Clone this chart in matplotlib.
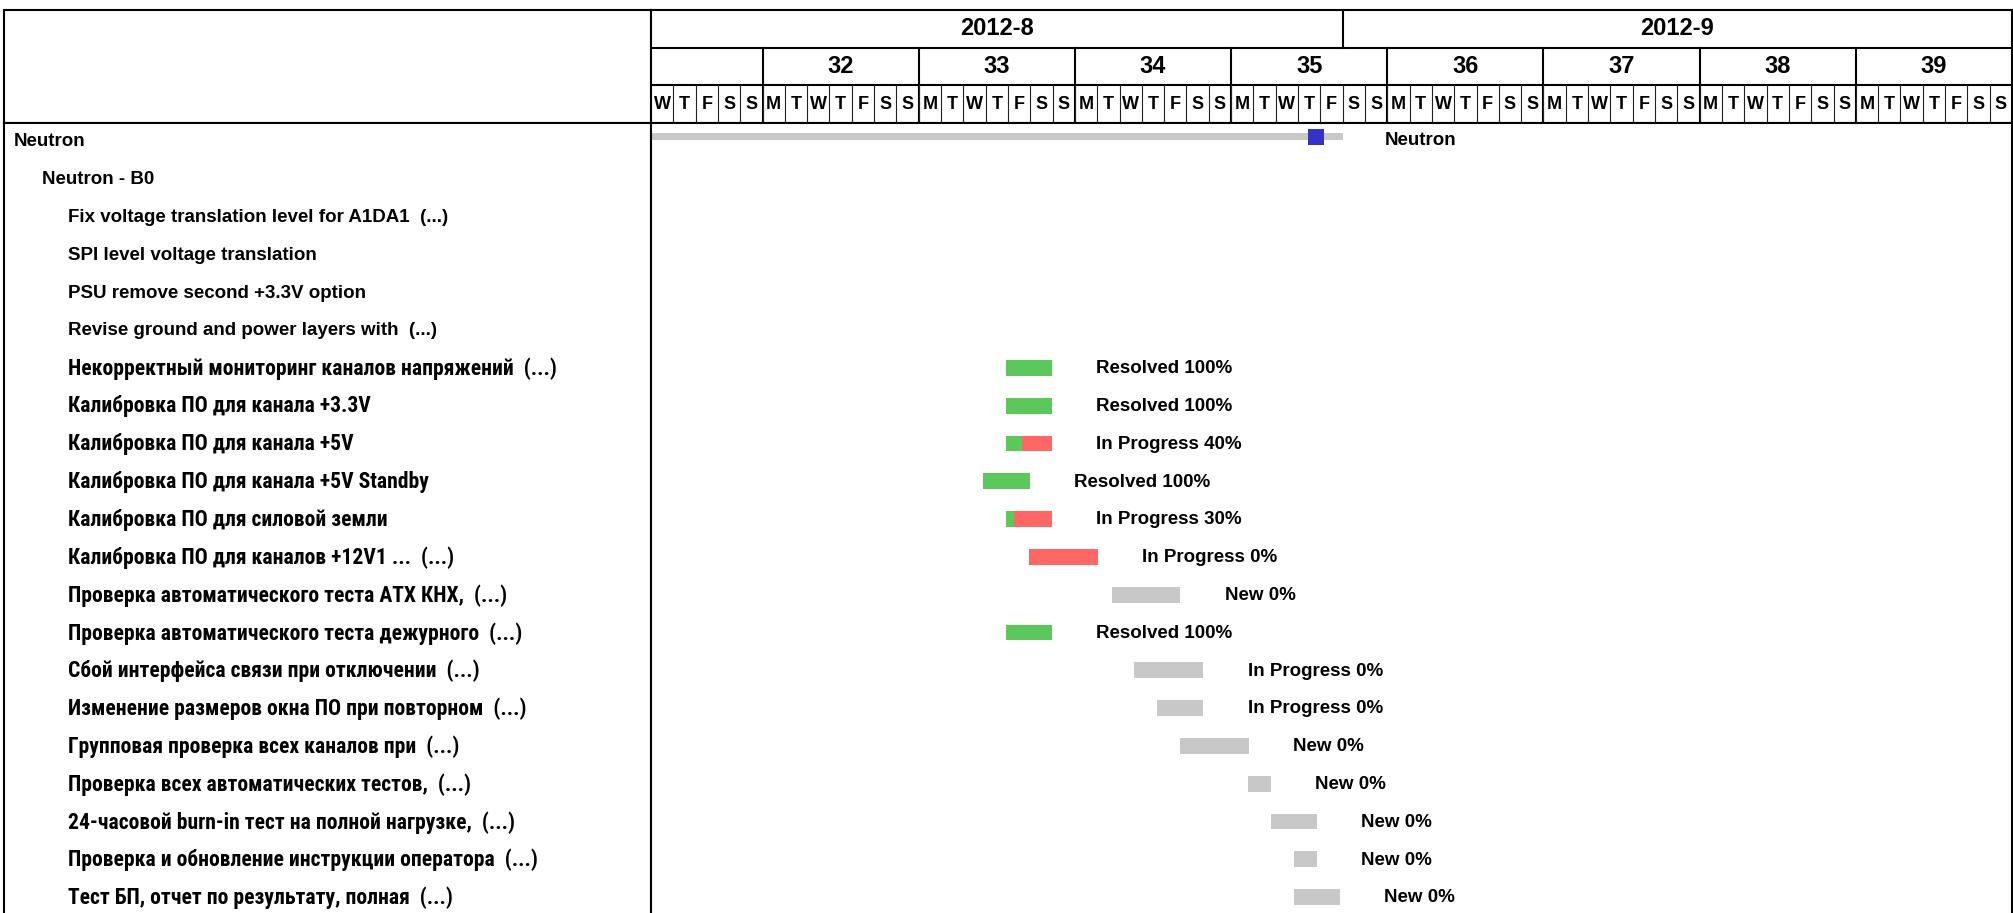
import numpy as np
import pandas as pd
import matplotlib
matplotlib.use('Agg')
import matplotlib.pyplot as plt
from matplotlib.patches import Rectangle
from matplotlib import font_manager

# ==============================================================================
# Data (days counted from 2012-08-01)
# ==============================================================================
month_labels = ['2012-8', '2012-9']
month_days = [31, 30]
week_labels = ['', '32', '33', '34', '35', '36', '37', '38', '39']
week_days = [5, 7, 7, 7, 7, 7, 7, 7, 7]
dates = pd.date_range('2012-08-01', '2012-09-30', freq='D')

task_names = [
    'Neutron',
    'Neutron - B0',
    'Fix voltage translation level for A1DA1  (...)',
    'SPI level voltage translation',
    'PSU remove second +3.3V option',
    'Revise ground and power layers with  (...)',
    'Некорректный мониторинг каналов напряжений  (...)',
    'Калибровка ПО для канала +3.3V',
    'Калибровка ПО для канала +5V',
    'Калибровка ПО для канала +5V Standby',
    'Калибровка ПО для силовой земли',
    'Калибровка ПО для каналов +12V1 ...  (...)',
    'Проверка автоматического теста АТХ КНХ,  (...)',
    'Проверка автоматического теста дежурного  (...)',
    'Сбой интерфейса связи при отключении  (...)',
    'Изменение размеров окна ПО при повторном  (...)',
    'Групповая проверка всех каналов при  (...)',
    'Проверка всех автоматических тестов,  (...)',
    '24-часовой burn-in тест на полной нагрузке,  (...)',
    'Проверка и обновление инструкции оператора  (...)',
    'Тест БП, отчет по результату, полная  (...)',
]
task_levels = [0, 1] + [2] * 19

bar_start = [None] * 6 + [15.9, 15.9, 15.9, 14.9, 15.9, 16.93, 20.64, 15.9,
                          21.67, 22.7, 23.69, 26.74, 27.77, 28.8, 28.8]
bar_end = [None] * 6 + [17.96, 17.96, 17.96, 16.97, 17.96, 20.02, 23.73, 17.96,
                        24.76, 24.76, 26.78, 27.77, 29.83, 29.83, 30.86]
status = [None] * 6 + ['Resolved', 'Resolved', 'In Progress', 'Resolved', 'In Progress',
                       'In Progress', 'New', 'Resolved', 'In Progress', 'In Progress',
                       'New', 'New', 'New', 'New', 'New']
percent = [None] * 6 + [100, 100, 40, 100, 30, 0, 0, 100, 0, 0, 0, 0, 0, 0, 0]
done_share = [None] * 6 + [1, 1, 0.35, 1, 0.17, 0, 0, 1, 0, 0, 0, 0, 0, 0, 0]
late = [None] * 6 + [False, False, True, False, True, True, False, False,
                     False, False, False, False, False, False, False]

project_start, project_end = 0, 31
today_marker = 29.82

# ==============================================================================
# Fonts
# ==============================================================================
installed = {f.name for f in font_manager.fontManager.ttflist}
LATIN = ['Liberation Sans', 'DejaVu Sans']
NARROW = [n for n in ['Roboto Condensed', 'PT Sans Narrow'] if n in installed] + ['DejaVu Sans']


def is_cyrillic(s):
    return any('\u0400' <= ch <= '\u04ff' for ch in s)


C_DONE = '#5cc85c'
C_LATE = '#ff6666'
C_TODO = '#c8c8c8'
C_MARK = '#3333cc'

# ==============================================================================
# Layout (pixels of a 2013x913 canvas)
# ==============================================================================
W, H = 2013, 913
x_left, x_div, x_right = 4, 651, 2012
y_top, y_head = 10, 123


def frac(x0, y0, x1, y1):
    return [x0 / W, 1 - y1 / H, (x1 - x0) / W, (y1 - y0) / H]


fig = plt.figure(figsize=(W / 100, H / 100), dpi=100)
ax_lh = fig.add_axes(frac(x_left, y_top, x_div, y_head))
ax_l = fig.add_axes(frac(x_left, y_head, x_div, H))
ax_h = fig.add_axes(frac(x_div, y_top, x_right, y_head))
ax_t = fig.add_axes(frac(x_div, y_head, x_right, H))

n_days = len(dates)
row_px = 37.8
y_lim = ((H - 140) / row_px, -(140 - y_head) / row_px)
txt_dy = 0.05  # small baseline nudge so text sits on the bar centre

for ax in (ax_lh, ax_l, ax_h, ax_t):
    ax.set_xticks([])
    ax.set_yticks([])
    for sp in ax.spines.values():
        sp.set_linewidth(1.5)
for ax in (ax_l, ax_t):
    ax.spines['bottom'].set_visible(False)

# --- header ---
ax_h.set_xlim(0, n_days)
ax_h.set_ylim(3, 0)
ax_h.axhline(1, color='black', lw=1.5)
ax_h.axhline(2, color='black', lw=1.5)

pos = 0
for lab, nd in zip(month_labels, month_days):
    if pos > 0:
        ax_h.plot([pos, pos], [0, 1], color='black', lw=1.5)
    ax_h.text(pos + nd / 2, 0.5, lab, ha='center', va='center', fontsize=17,
              fontweight='bold', family=LATIN)
    pos += nd

pos = 0
for lab, nd in zip(week_labels, week_days):
    if pos > 0:
        ax_h.plot([pos, pos], [1, 3], color='black', lw=1.5)
    ax_h.text(pos + nd / 2, 1.5, lab, ha='center', va='center', fontsize=17,
              fontweight='bold', family=LATIN)
    pos += nd

for i, d in enumerate(dates):
    if i > 0:
        ax_h.plot([i, i], [2, 3], color='#222222', lw=0.8)
    ax_h.text(i + 0.5, 2.5, 'MTWTFSS'[d.weekday()], ha='center', va='center',
              fontsize=13, fontweight='bold', family=LATIN)

# --- labels ---
indent = [10, 38, 64]
ax_l.set_xlim(0, x_div - x_left)
ax_l.set_ylim(*y_lim)
for i, (name, lvl) in enumerate(zip(task_names, task_levels)):
    if is_cyrillic(name):
        fam, fs = NARROW, 15.6
    else:
        fam, fs = LATIN, 13.5
    ax_l.text(indent[lvl], i + txt_dy, name, ha='left', va='center', fontsize=fs,
              fontweight='bold', family=fam)

# --- bars ---
ax_t.set_xlim(0, n_days)
ax_t.set_ylim(*y_lim)

ax_t.add_patch(Rectangle((project_start, -0.185), project_end - project_start, 0.185,
                         color=C_TODO, lw=0))
ax_t.add_patch(Rectangle((today_marker - 0.36, -0.29), 0.72, 0.41, color=C_MARK, lw=0, zorder=3))
ax_t.text(project_end + 1.87, 0.0, task_names[0], ha='left', va='center', fontsize=13.5,
          fontweight='bold', family=LATIN)

bh = 0.415
for i in range(len(task_names)):
    if bar_start[i] is None:
        continue
    s, e = bar_start[i], bar_end[i]
    y0 = i + 0.03 - bh / 2
    rest = C_LATE if late[i] else C_TODO
    ax_t.add_patch(Rectangle((s, y0), e - s, bh, color=rest, lw=0))
    if done_share[i] > 0:
        ax_t.add_patch(Rectangle((s, y0), (e - s) * done_share[i], bh, color=C_DONE, lw=0))
    ax_t.text(e + 2.0, i + txt_dy, f'{status[i]} {percent[i]}%', ha='left', va='center',
              fontsize=13.5, fontweight='bold', family=LATIN)

plt.savefig('out.png', dpi=100)
